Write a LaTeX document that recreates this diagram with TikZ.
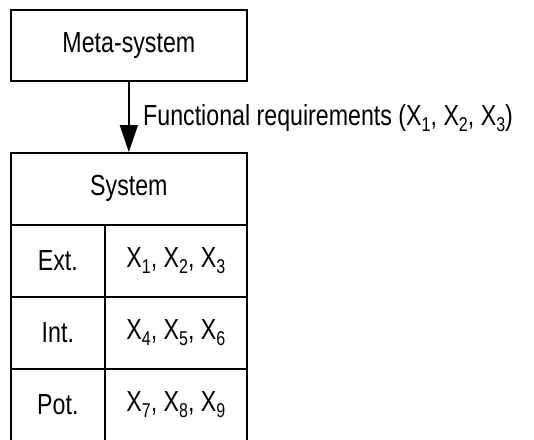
\documentclass[tikz,border=0pt]{standalone}
\usepackage{fontspec}
\setmainfont{Liberation Sans}[FakeStretch=0.8]
\usetikzlibrary{arrows.meta}
\newcommand{\sbs}[1]{\raisebox{-0.2em}{\fontsize{20}{22}\selectfont #1}}
\begin{document}
\begin{tikzpicture}[x=1pt,y=-1pt,
  box/.style={draw,line width=1.7pt,inner sep=0pt,anchor=north west},
  lbl/.style={font=\fontsize{29}{32}\selectfont,inner sep=0pt},
  conn/.style={line width=1.7pt,-{Triangle[length=27pt,width=18pt]}}]
\useasboundingbox (0,0) rectangle (534,439);
\clip (0,0) rectangle (534,439);
\node[box,minimum width=236pt,minimum height=71pt] (meta) at (10,9) {};
\node[lbl] (metat) at (meta.center) {Meta-system};
\node[box,minimum width=236pt,minimum height=72pt] (sys) at (10,152) {};
\node[lbl] (syst) at (sys.center) {System};
\node[box,minimum width=94pt,minimum height=72pt] (ext) at (10,224) {};
\node[box,minimum width=142pt,minimum height=72pt] (extv) at (104,224) {};
\node[box,minimum width=94pt,minimum height=72pt] (int) at (10,296) {};
\node[box,minimum width=142pt,minimum height=72pt] (intv) at (104,296) {};
\node[box,minimum width=94pt,minimum height=72pt] (pot) at (10,368) {};
\node[box,minimum width=142pt,minimum height=72pt] (potv) at (104,368) {};
\node[lbl] at (ext.center) {Ext.};
\node[lbl] at (extv.center) {X\sbs{1}, X\sbs{2}, X\sbs{3}};
\node[lbl] at (int.center) {Int.};
\node[lbl] at (intv.center) {X\sbs{4}, X\sbs{5}, X\sbs{6}};
\node[lbl] at (pot.center) {Pot.};
\node[lbl] at (potv.center) {X\sbs{7}, X\sbs{8}, X\sbs{9}};
\draw[conn] (meta.south) -- (sys.north);
\node[lbl,anchor=west] (fr) at (143,118) {Functional requirements (X\sbs{1}, X\sbs{2}, X\sbs{3})};
\end{tikzpicture}
\end{document}
